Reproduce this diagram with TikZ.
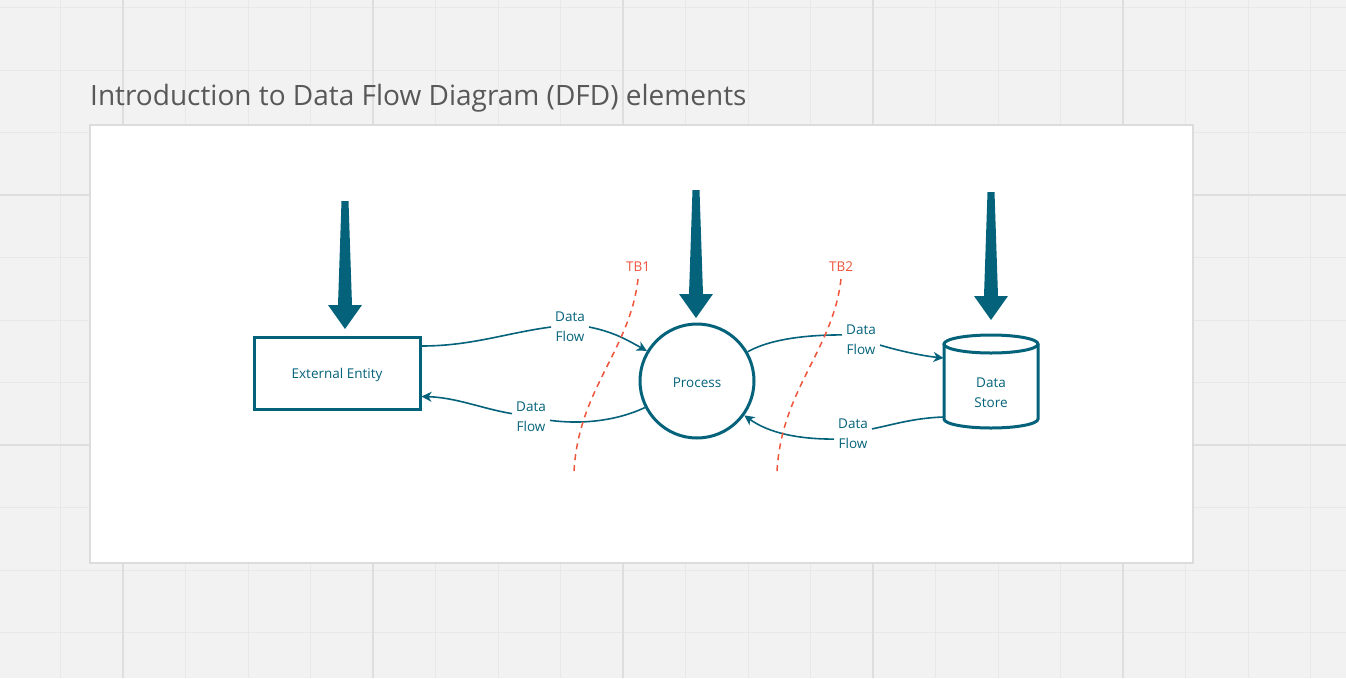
\documentclass[tikz,border=0pt]{standalone}
\usepackage{fontspec}
\setmainfont{Open Sans}
\usetikzlibrary{arrows.meta}
\definecolor{dfdteal}{RGB}{4,99,122}
\definecolor{tbred}{RGB}{240,86,60}
\definecolor{titlegray}{RGB}{88,88,88}
\definecolor{bggray}{RGB}{242,242,242}
\definecolor{gridminor}{RGB}{232,232,232}
\definecolor{gridmajor}{RGB}{222,222,222}
\definecolor{panelborder}{RGB}{220,220,220}
\newcommand\dfdarrow[3]{%
  \fill[dfdteal] (#1-3.5,#2) -- (#1+3.5,#2) -- (#1+7,#3-24) -- (#1+17,#3-24) -- (#1,#3) -- (#1-17,#3-24) -- (#1-7,#3-24) -- cycle;}
\begin{document}
\begin{tikzpicture}[x=1pt,y=-1pt,
  flow/.style={draw=dfdteal, line width=1.6pt, -{Stealth[length=10pt,width=10pt,inset=3pt]}},
  plain/.style={draw=dfdteal, line width=1.6pt},
  lbl/.style={text=dfdteal, font=\fontsize{13.5}{20}\selectfont, align=center, inner xsep=4pt, inner ysep=0pt, fill=white},
  shapetext/.style={text=dfdteal, font=\fontsize{13.5}{20}\selectfont, align=center},
  entitybox/.style={draw=dfdteal, line width=3pt, minimum width=166pt, minimum height=72pt, inner sep=0pt},
  procbox/.style={circle, draw=dfdteal, line width=3pt, minimum size=114pt, inner sep=0pt},
  tb/.style={draw=tbred, line width=1.5pt, dash pattern=on 6pt off 5pt},
  tblbl/.style={text=tbred, font=\fontsize{13.5}{16}\selectfont, inner sep=1pt},
]
\useasboundingbox (0,0) rectangle (1346,678);
\fill[bggray] (0,0) rectangle (1346,678);
% grid
\foreach \x in {-2,60.5,...,1350} \draw[gridminor, line width=1pt] (\x,0) -- (\x,678);
\foreach \y in {7.5,70,...,690} \draw[gridminor, line width=1pt] (0,\y) -- (1346,\y);
\foreach \x in {123,373,623,873,1123} \draw[gridmajor, line width=2pt] (\x,0) -- (\x,678);
\foreach \y in {195,445} \draw[gridmajor, line width=2pt] (0,\y) -- (1346,\y);
% title
\node[anchor=base west, inner sep=0pt, text=titlegray, font=\fontsize{28}{34}\selectfont] (title) at (90,105) {Introduction to Data Flow Diagram (DFD) elements};
% panel
\draw[panelborder, fill=white, line width=1.5pt] (90,125) rectangle (1193,563);
% shapes
\node[entitybox] (ee) at (337,373.5) {};
\node[shapetext] (eetext) at (337,375) {External Entity};
\node[procbox] (proc) at (697,381) {};
\node[shapetext] (proctext) at (697,383) {Process};
\coordinate (ds) at (991,381.5);
\draw[dfdteal, line width=3pt] (944,344) -- (944,419) arc[start angle=180, end angle=360, x radius=47pt, y radius=9pt] -- (1038,344);
\draw[dfdteal, line width=3pt] (991,344) ellipse[x radius=47pt, y radius=9pt];
\node[shapetext] (dstext) at (991,392.5) {Data\\Store};
% big arrows
\dfdarrow{345}{201}{329}
\dfdarrow{696}{190}{318}
\dfdarrow{991}{192}{320}
% flow labels
\node[lbl] (f1) at (570,327) {Data\\Flow};
\node[lbl] (f2) at (531,417) {Data\\Flow};
\node[lbl] (f3) at (861,340) {Data\\Flow};
\node[lbl] (f4) at (853,434) {Data\\Flow};
% connectors
\draw[plain] ([yshift=27.5pt]ee.east) .. controls +(50,0) and +(-45,6) .. (f1.west);
\draw[flow] (f1.east) .. controls +(25,5) and +(-20,-11) .. (proc.149);
\draw[plain] (proc.207) .. controls +(-30,14) and +(30,4) .. (f2.-10);
\draw[flow] (f2.170) .. controls +(-30,-5) and +(35,1) .. ([yshift=-23pt]ee.east);
\draw[plain] (proc.30) .. controls +(25,-14) and +(-30,0) .. (f3.165);
\draw[flow] (f3.-15) .. controls +(20,6) and +(-20,-2) .. ([xshift=-47.5pt,yshift=23.5pt]ds);
\draw[plain] ([xshift=-47.5pt,yshift=-35.5pt]ds) .. controls +(-30,1) and +(20,-4) .. (f4.15);
\draw[flow] (f4.195) .. controls +(-35,0) and +(25,18) .. (proc.324);
% trust boundaries
\node[tblbl] (tb1) at (638,267) {TB1};
\node[tblbl] (tb2) at (841,267) {TB2};
\draw[tb] (638,279) .. controls (630,350) and (578,390) .. (574,472);
\draw[tb] (841,279) .. controls (833,350) and (781,390) .. (777,472);
\end{tikzpicture}
\end{document}
